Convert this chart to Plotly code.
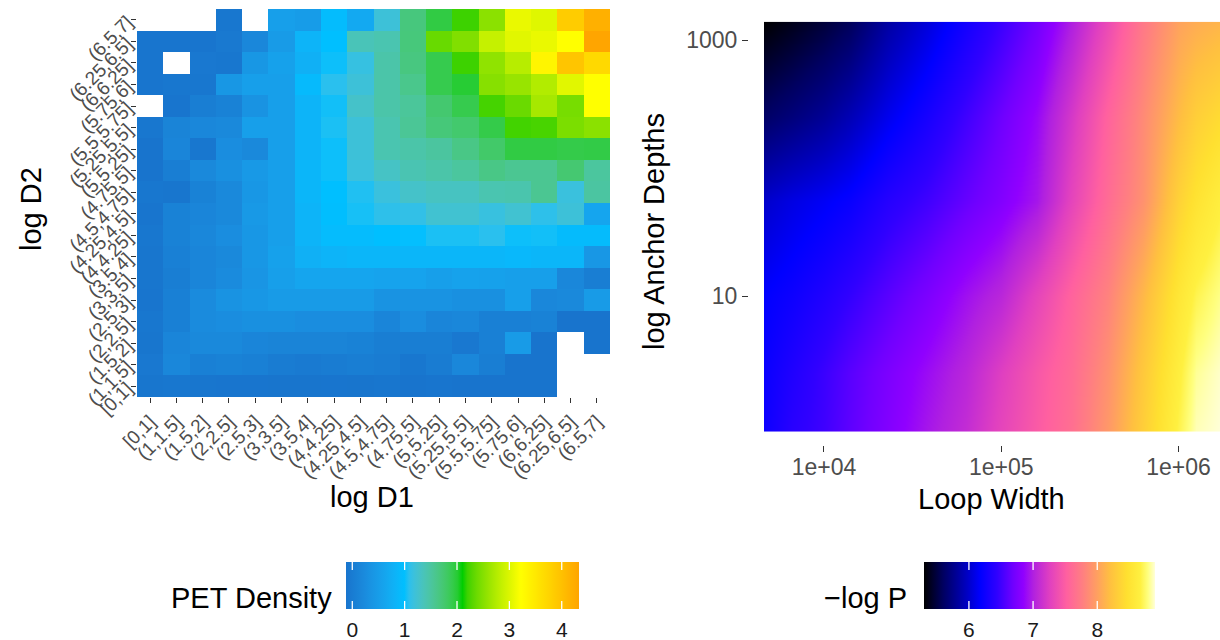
import plotly.graph_objects as go

W, H = 1220, 640

# ---------------- data ----------------
# log-distance bins shared by both axes of the PET density panel
log_bins = ["[0,1]", "(1,1.5]", "(1.5,2]", "(2,2.5]", "(2.5,3]", "(3,3.5]",
            "(3.5,4]", "(4,4.25]", "(4.25,4.5]", "(4.5,4.75]", "(4.75,5]",
            "(5,5.25]", "(5.25,5.5]", "(5.5,5.75]", "(5.75,6]", "(6,6.25]",
            "(6.25,6.5]", "(6.5,7]"]

# PET density; one list per log D2 bin (bottom to top), columns follow log D1 bins
pet_d2_0_1     = [-0.09, -0.08, -0.09, -0.10, -0.10, -0.11, -0.11, -0.10, -0.11, -0.09, -0.12, -0.10, -0.12, -0.12, -0.12, -0.12, None, None]
pet_d2_1_15    = [-0.06, 0.18, 0.06, 0.09, 0.06, 0.00, -0.03, 0.00, 0.03, 0.00, -0.08, 0.00, 0.18, 0.03, -0.12, -0.12, None, None]
pet_d2_15_2    = [-0.09, 0.15, 0.20, 0.20, 0.15, 0.12, 0.12, 0.12, 0.09, 0.03, 0.03, 0.03, -0.06, 0.06, 0.47, -0.12, None, -0.12]
pet_d2_2_25    = [-0.08, 0.06, 0.24, 0.27, 0.30, 0.30, 0.27, 0.27, 0.27, 0.15, 0.27, 0.15, 0.18, 0.06, 0.06, 0.09, -0.12, -0.12]
pet_d2_25_3    = [-0.10, 0.06, 0.24, 0.35, 0.41, 0.47, 0.47, 0.47, 0.47, 0.35, 0.35, 0.35, 0.30, 0.30, 0.53, 0.18, 0.20, 0.47]
pet_d2_3_35    = [-0.09, 0.03, 0.15, 0.24, 0.38, 0.53, 0.62, 0.62, 0.62, 0.59, 0.59, 0.53, 0.57, 0.56, 0.53, 0.53, 0.18, 0.03]
pet_d2_35_4    = [-0.09, 0.06, 0.15, 0.20, 0.41, 0.56, 0.77, 0.83, 0.86, 0.86, 0.86, 0.86, 0.86, 0.86, 0.89, 0.86, 0.86, 0.41]
pet_d2_4_425   = [-0.08, 0.09, 0.18, 0.27, 0.41, 0.53, 0.83, 0.94, 0.94, 0.99, 1.00, 1.05, 1.05, 1.08, 1.02, 1.03, 0.93, 0.93]
pet_d2_425_45  = [-0.10, 0.09, 0.15, 0.20, 0.44, 0.53, 0.83, 0.98, 1.04, 1.10, 1.12, 1.24, 1.24, 1.16, 1.24, 1.10, 1.20, 0.62]
pet_d2_45_475  = [-0.08, -0.09, 0.09, 0.20, 0.41, 0.53, 0.86, 0.99, 1.06, 1.17, 1.28, 1.32, 1.32, 1.41, 1.43, 1.57, 1.17, 1.49]
pet_d2_475_5   = [-0.12, 0.03, 0.20, 0.30, 0.44, 0.53, 0.86, 1.02, 1.17, 1.30, 1.40, 1.45, 1.51, 1.63, 1.57, 1.57, 1.74, 1.51]
pet_d2_5_525   = [-0.12, 0.15, -0.08, 0.27, 0.20, 0.53, 0.83, 1.02, 1.20, 1.41, 1.45, 1.50, 1.63, 1.78, 1.94, 1.94, 1.92, 1.93]
pet_d2_525_55  = [-0.08, 0.12, 0.18, 0.20, 0.53, 0.53, 0.83, 1.05, 1.20, 1.41, 1.55, 1.70, 1.76, 1.92, 2.22, 2.24, 2.45, 2.53]
pet_d2_55_575  = [None, -0.10, 0.03, 0.09, 0.35, 0.53, 0.83, 1.03, 1.28, 1.45, 1.53, 1.75, 1.90, 2.23, 2.37, 2.68, 2.43, 3.22]
pet_d2_575_6   = [-0.10, -0.08, -0.08, 0.40, 0.53, 0.53, 0.92, 1.08, 1.20, 1.45, 1.60, 1.90, 2.00, 2.51, 2.60, 2.75, 3.03, 3.22]
pet_d2_6_625   = [-0.10, None, -0.06, -0.08, 0.40, 0.56, 0.77, 1.02, 1.15, 1.45, 1.66, 1.90, 2.20, 2.56, 2.78, 3.35, 3.95, 3.70]
pet_d2_625_65  = [-0.10, -0.10, -0.10, -0.05, 0.18, 0.47, 0.83, 0.99, 1.37, 1.41, 1.69, 2.36, 2.48, 2.86, 3.03, 3.09, 3.22, 4.33]
pet_d2_65_7    = [None, None, None, -0.08, None, 0.53, 0.49, 0.95, 0.68, 1.20, 1.68, 1.94, 2.20, 2.53, 3.09, 3.02, 3.85, 4.20]

pet_density = [pet_d2_0_1, pet_d2_1_15, pet_d2_15_2, pet_d2_2_25, pet_d2_25_3,
               pet_d2_3_35, pet_d2_35_4, pet_d2_4_425, pet_d2_425_45,
               pet_d2_45_475, pet_d2_475_5, pet_d2_5_525, pet_d2_525_55,
               pet_d2_55_575, pet_d2_575_6, pet_d2_6_625, pet_d2_625_65,
               pet_d2_65_7]
pet_range = (-0.12, 4.33)
pet_ticks = [0, 1, 2, 3, 4]

# -log P surface over loop width (columns) and anchor depth (rows, bottom to top)
loop_width = [4600, 6600, 10000, 14000, 23000, 38000, 63000, 100000, 160000,
              250000, 400000, 630000, 1000000, 1260000, 1700000]
anchor_depth = [0.87, 2.5, 10, 56, 250, 1390]
nlogp_depth_0_87 = [6.25, 6.40, 6.50, 6.62, 6.78, 6.95, 7.10, 7.30, 7.48, 7.65, 7.95, 8.32, 8.70, 8.86, 8.90]
nlogp_depth_2_5  = [6.23, 6.35, 6.48, 6.60, 6.75, 6.90, 7.05, 7.25, 7.45, 7.62, 7.90, 8.27, 8.65, 8.82, 8.88]
nlogp_depth_10   = [6.18, 6.25, 6.35, 6.45, 6.60, 6.75, 6.92, 7.05, 7.30, 7.55, 7.80, 8.15, 8.55, 8.70, 8.80]
nlogp_depth_56   = [6.00, 6.08, 6.15, 6.22, 6.38, 6.50, 6.65, 6.78, 6.95, 7.30, 7.62, 7.90, 8.35, 8.50, 8.64]
nlogp_depth_250  = [5.62, 5.70, 5.80, 5.92, 6.12, 6.30, 6.50, 6.68, 6.88, 7.20, 7.55, 7.85, 8.18, 8.32, 8.42]
nlogp_depth_1390 = [5.30, 5.38, 5.48, 5.58, 5.85, 6.05, 6.28, 6.48, 6.70, 7.00, 7.35, 7.72, 8.02, 8.08, 8.13]
neg_log_p = [nlogp_depth_0_87, nlogp_depth_2_5, nlogp_depth_10,
             nlogp_depth_56, nlogp_depth_250, nlogp_depth_1390]
nlogp_range = (5.3, 8.9)
nlogp_ticks = [6, 7, 8]

width_ticks = [1e4, 1e5, 1e6]
width_labels = ["1e+04", "1e+05", "1e+06"]
depth_ticks = [10, 1000]
depth_labels = ["10", "1000"]


# ---------------- colour helpers ----------------
def _hex_to_rgb(h):
    h = h.lstrip("#")
    return [int(h[i:i + 2], 16) / 255.0 for i in (0, 2, 4)]


def _to_lab(h):
    def lin(c):
        return c / 12.92 if c <= 0.04045 else ((c + 0.055) / 1.055) ** 2.4
    r, g, b = [lin(c) for c in _hex_to_rgb(h)]
    x = (0.4124 * r + 0.3576 * g + 0.1805 * b) / 0.95047
    y = (0.2126 * r + 0.7152 * g + 0.0722 * b)
    z = (0.0193 * r + 0.1192 * g + 0.9505 * b) / 1.08883

    def f(t):
        return t ** (1 / 3) if t > 0.008856 else 7.787 * t + 16 / 116
    fx, fy, fz = f(x), f(y), f(z)
    return (116 * fy - 16, 500 * (fx - fy), 200 * (fy - fz))


def _from_lab(lab):
    L, a, b = lab
    fy = (L + 16) / 116
    fx = fy + a / 500
    fz = fy - b / 200

    def finv(t):
        return t ** 3 if t ** 3 > 0.008856 else (t - 16 / 116) / 7.787
    x, y, z = finv(fx) * 0.95047, finv(fy), finv(fz) * 1.08883
    r = 3.2406 * x - 1.5372 * y - 0.4986 * z
    g = -0.9689 * x + 1.8758 * y + 0.0415 * z
    bl = 0.0557 * x - 0.2040 * y + 1.0570 * z

    def gam(c):
        c = min(max(c, 0.0), 1.0)
        return 12.92 * c if c <= 0.0031308 else 1.055 * c ** (1 / 2.4) - 0.055
    return "rgb({},{},{})".format(*[int(round(gam(c) * 255)) for c in (r, g, bl)])


def lab_gradient(colours, steps=12):
    """Evenly spaced colours joined by interpolation in CIE Lab space."""
    labs = [_to_lab(c) for c in colours]
    nseg = len(colours) - 1
    scale = []
    for s in range(nseg):
        for k in range(steps):
            t = k / steps
            mix = tuple(labs[s][i] + (labs[s + 1][i] - labs[s][i]) * t for i in range(3))
            scale.append([(s + t) / nseg, _from_lab(mix)])
    scale.append([1.0, _from_lab(labs[-1])])
    return scale


pet_scale = lab_gradient(["#1874CD", "#00BFFF", "#00CD00", "#FFFF00", "#FFA500"])
nlogp_scale = [[0.0, "#000000"], [0.083, "#000060"], [0.183, "#0000C0"],
               [0.244, "#0000FF"], [0.317, "#3000FF"], [0.386, "#7000FF"],
               [0.43, "#9000FF"], [0.472, "#B020E0"], [0.544, "#E040C0"],
               [0.617, "#FF60A0"], [0.689, "#FF8080"], [0.75, "#FFA060"],
               [0.806, "#FFC040"], [0.878, "#FFE030"], [0.936, "#FFF040"],
               [0.97, "#FFFF80"], [1.0, "#FFFFD8"]]

# ---------------- layout geometry (pixels) ----------------
FAMILY = "Liberation Sans, Arial, sans-serif"
TICK_FONT = dict(family=FAMILY, size=19, color="#4D4D4D")
TITLE_FONT = dict(family=FAMILY, size=29, color="#000000")
LEG_FONT = dict(family=FAMILY, size=21, color="#1A1A1A")

CB_TOP, CB_THICK, CB_TICK = 562, 47, 9.5
PET_CB = dict(left=346, length=233)
NLOGP_CB = dict(left=924, length=231)


def px_x(p):
    return p / W


def px_y(p):
    return 1 - p / H


def colorbar(geom, ticks):
    return dict(
        orientation="h", thickness=CB_THICK, thicknessmode="pixels",
        len=geom["length"], lenmode="pixels",
        x=px_x(geom["left"] + geom["length"] / 2), xanchor="center",
        y=px_y(CB_TOP), yanchor="top", xpad=0, ypad=0,
        outlinewidth=0, tickvals=ticks, ticktext=[str(t) for t in ticks],
        ticks="outside", ticklen=3, tickcolor="rgba(0,0,0,0)",
        tickfont=LEG_FONT,
    )


fig = go.Figure()

fig.add_trace(go.Heatmap(
    x=log_bins, y=log_bins, z=pet_density,
    colorscale=pet_scale, zmin=pet_range[0], zmax=pet_range[1],
    colorbar=colorbar(PET_CB, pet_ticks),
    xaxis="x", yaxis="y", hoverongaps=False,
))

fig.add_trace(go.Heatmap(
    x=loop_width, y=anchor_depth, z=neg_log_p, zsmooth="best",
    colorscale=nlogp_scale, zmin=nlogp_range[0], zmax=nlogp_range[1],
    colorbar=colorbar(NLOGP_CB, nlogp_ticks),
    xaxis="x2", yaxis="y2",
))

axis_common = dict(showgrid=False, zeroline=False, showline=False,
                   ticks="outside", ticklen=5, tickwidth=1.4, tickcolor="#333333",
                   tickfont=TICK_FONT, fixedrange=True, automargin=False)
right_axis = {**axis_common, "ticklen": 6, "tickfont": {**TICK_FONT, "size": 23}}

fig.update_layout(
    width=W, height=H,
    margin=dict(l=0, r=0, t=0, b=0, pad=0, autoexpand=False),
    paper_bgcolor="white", plot_bgcolor="white", showlegend=False,
    xaxis=dict(domain=[px_x(137), px_x(610)], anchor="y", type="category",
               categoryorder="array", categoryarray=log_bins,
               tickmode="array", tickvals=log_bins, ticktext=log_bins,
               tickangle=-45, range=[-0.5, len(log_bins) - 0.5], **axis_common),
    yaxis=dict(domain=[px_y(397), px_y(9)], anchor="x", type="category",
               categoryorder="array", categoryarray=log_bins,
               tickmode="array", tickvals=log_bins, ticktext=log_bins,
               tickangle=-45, range=[-0.5, len(log_bins) - 0.5], **axis_common),
    xaxis2=dict(domain=[px_x(764), 1.0], anchor="free", position=px_y(445),
                type="log", range=[3.662, 6.234], tickmode="array",
                tickvals=width_ticks, ticktext=width_labels,
                ticklabelstandoff=-5, **right_axis),
    yaxis2=dict(domain=[px_y(431.7), px_y(21.7)], anchor="free", position=px_x(748),
                type="log", range=[-0.06, 3.143], tickmode="array",
                tickvals=depth_ticks, ticktext=depth_labels, **right_axis),
)

annotations = [
    dict(text="log D1", x=px_x(372), y=px_y(497)),
    dict(text="log D2", x=px_x(31), y=px_y(209), textangle=-90),
    dict(text="Loop Width", x=px_x(991), y=px_y(499)),
    dict(text="log Anchor Depths", x=px_x(654), y=px_y(232), textangle=-90),
]
for a in annotations:
    a.update(xref="paper", yref="paper", showarrow=False, font=TITLE_FONT,
             xanchor="center", yanchor="middle")

for label, right in (("PET Density", 334), ("\u2212log P", 909)):
    annotations.append(dict(text=label, x=px_x(right), y=px_y(598), xref="paper",
                            yref="paper", showarrow=False, font=TITLE_FONT,
                            xanchor="right", yanchor="middle"))

# white tick marks on both edges of each colour bar
for geom, ticks, (lo, hi) in ((PET_CB, pet_ticks, pet_range),
                              (NLOGP_CB, nlogp_ticks, nlogp_range)):
    for t in ticks:
        xp = geom["left"] + (t - lo) / (hi - lo) * geom["length"]
        for y0, dy in ((CB_TOP, CB_TICK), (CB_TOP + CB_THICK, -CB_TICK)):
            annotations.append(dict(
                text="", x=px_x(xp), y=px_y(y0), xref="paper", yref="paper",
                showarrow=True, arrowhead=0, arrowwidth=1.3, arrowcolor="white",
                ax=0, ay=dy, standoff=0, startstandoff=0))

fig.update_layout(annotations=annotations)

fig.write_html("out.html")
